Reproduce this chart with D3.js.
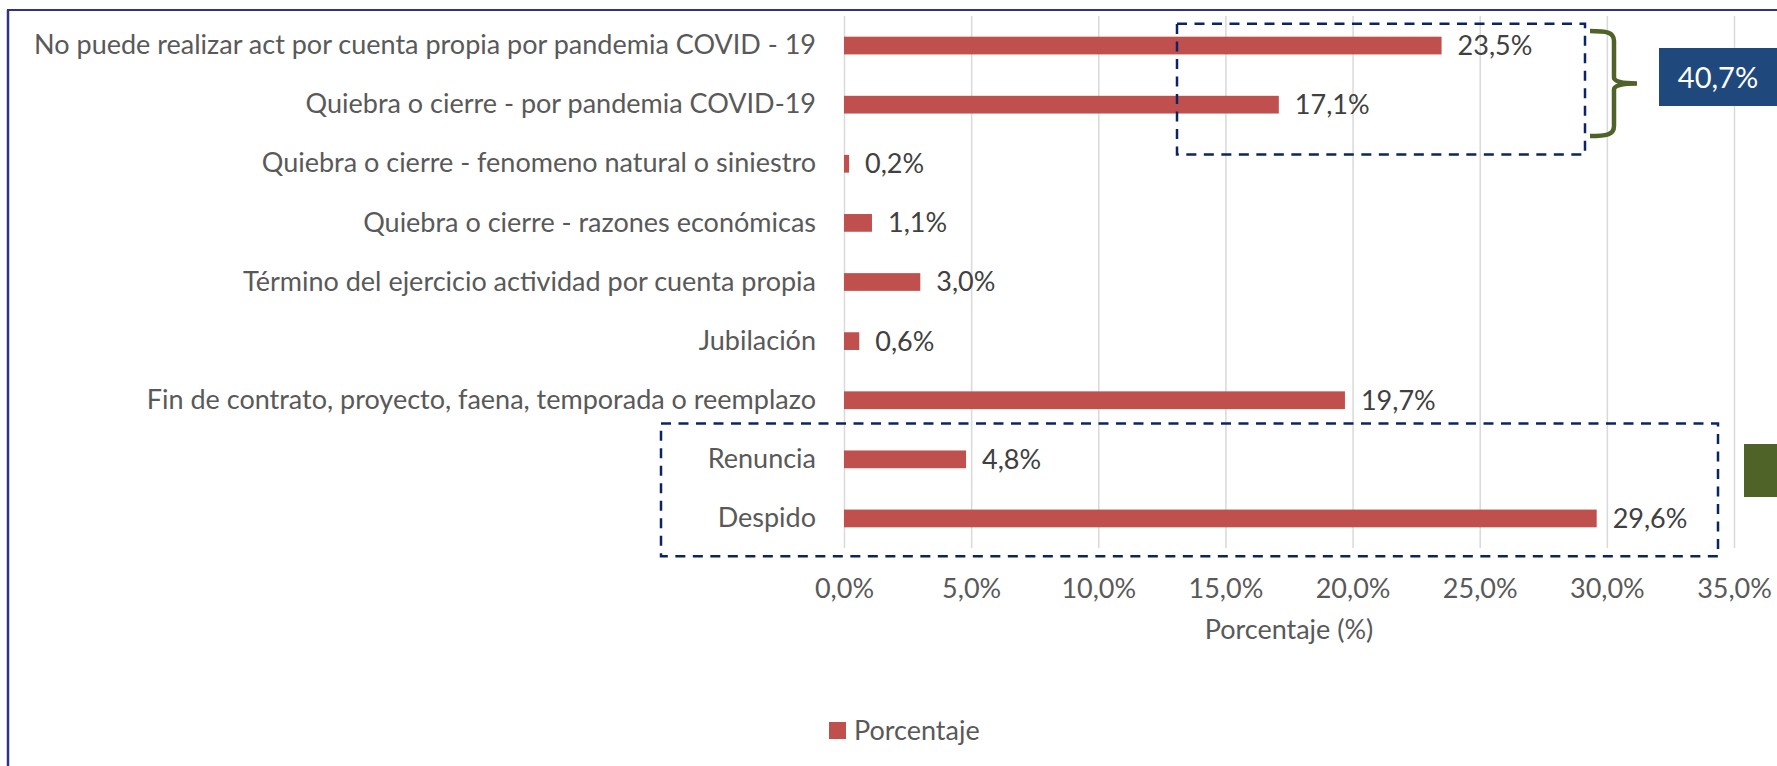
<!DOCTYPE html>
<html>
<head>
<meta charset="utf-8">
<script src="https://cdn.jsdelivr.net/npm/d3@7"></script>
<style>
  body { margin: 0; background: #fff; }
  svg { display: block; font-family: Lato, "Open Sans", sans-serif; }
</style>
</head>
<body>
<div id="chart"></div>
<script>
// categories top to bottom, values in percent
let categories = [
  "No puede realizar act por cuenta propia por pandemia COVID - 19",
  "Quiebra o cierre - por pandemia COVID-19",
  "Quiebra o cierre - fenomeno natural o siniestro",
  "Quiebra o cierre - razones económicas",
  "Término del ejercicio actividad por cuenta propia",
  "Jubilación",
  "Fin de contrato, proyecto, faena, temporada o reemplazo",
  "Renuncia",
  "Despido"
];
let values = [23.5, 17.1, 0.2, 1.1, 3.0, 0.6, 19.7, 4.8, 29.6];
let xTicks = [0, 5, 10, 15, 20, 25, 30, 35];
let seriesName = "Porcentaje";
let axisTitle = "Porcentaje (%)";
let covidTotal = "40,7%";

let W = 1777, H = 766;
let plotLeft = 844, plotRight = 1734, plotTop = 16, plotBottom = 548;
let fontSize = 27;

let locale = d3.formatLocale({decimal: ",", thousands: ".", grouping: [3], currency: ["", ""]});
let fmt = function (d) { return locale.format(".1f")(d) + "%"; };

let svg = d3.select('#chart')
    .append('svg')
    .attr("width", W)
    .attr("height", H);

let xScale = d3.scaleLinear().domain([0, 35]).range([plotLeft, plotRight]);
let yScale = d3.scaleBand()
    .domain(categories)
    .range([plotTop, plotBottom])
    .paddingInner(0.7)
    .paddingOuter(0.35);

// frame lines
svg.append('line').attr('x1', 7).attr('x2', W).attr('y1', 10).attr('y2', 10)
    .attr('stroke', '#2e3388').attr('stroke-width', 2);
svg.append('line').attr('x1', 8).attr('x2', 8).attr('y1', 10).attr('y2', H)
    .attr('stroke', '#2e3388').attr('stroke-width', 2.5);

// gridlines
let grid = svg.append('g')
    .attr("transform", "translate(0," + plotBottom + ")")
    .call(d3.axisBottom(xScale).tickValues(xTicks).tickSize(-(plotBottom - plotTop)).tickFormat(""));
grid.select('.domain').remove();
grid.selectAll('line').attr('stroke', '#d9d9d9').attr('stroke-width', 1.5);

// bars
svg.selectAll('rect.bar')
    .data(values)
    .enter()
    .append('rect')
    .attr('class', 'bar')
    .attr('x', xScale(0))
    .attr('y', function (d, i) { return yScale(categories[i]); })
    .attr('width', function (d) { return xScale(d) - xScale(0); })
    .attr('height', yScale.bandwidth())
    .attr('fill', '#c0504d');

// data labels
svg.selectAll('text.val')
    .data(values)
    .enter()
    .append('text')
    .attr('class', 'val')
    .attr('x', function (d) { return xScale(d) + 16; })
    .attr('y', function (d, i) { return yScale(categories[i]) + yScale.bandwidth() / 2; })
    .attr('dy', '0.35em')
    .attr('font-size', fontSize)
    .attr('fill', '#404040')
    .text(fmt);

// category axis
let yAxis = svg.append('g')
    .attr("transform", "translate(" + plotLeft + ",0)")
    .call(d3.axisLeft(yScale).tickSize(0).tickPadding(28));
yAxis.select('.domain').remove();
yAxis.selectAll('text')
    .attr('font-size', fontSize)
    .attr('font-family', 'Lato, "Open Sans", sans-serif')
    .attr('fill', '#595959');

// value axis
let xAxis = svg.append('g')
    .attr("transform", "translate(0," + plotBottom + ")")
    .call(d3.axisBottom(xScale).tickValues(xTicks).tickSize(0).tickFormat(fmt));
xAxis.select('.domain').remove();
xAxis.selectAll('text')
    .attr('y', 41)
    .attr('dy', '0.35em')
    .attr('font-size', fontSize)
    .attr('font-family', 'Lato, "Open Sans", sans-serif')
    .attr('fill', '#595959');

svg.append('text')
    .attr('x', (plotLeft + plotRight) / 2)
    .attr('y', 630)
    .attr('dy', '0.35em')
    .attr('text-anchor', 'middle')
    .attr('font-size', fontSize)
    .attr('fill', '#595959')
    .text(axisTitle);

// legend
svg.append('rect').attr('x', 829).attr('y', 722).attr('width', 17).attr('height', 17).attr('fill', '#c0504d');
svg.append('text').attr('x', 854).attr('y', 731).attr('dy', '0.35em')
    .attr('font-size', fontSize).attr('fill', '#595959').text(seriesName);

// dashed highlight boxes
let dash = {stroke: '#0c2461', width: 2.5, arr: '10,7.5'};
function dashedBox(cats, x0, x1, padTop, padBottom) {
  let y0 = yScale(cats[0]) - padTop;
  let y1 = yScale(cats[cats.length - 1]) + yScale.bandwidth() + padBottom;
  svg.append('rect')
      .attr('x', x0).attr('y', y0)
      .attr('width', x1 - x0).attr('height', y1 - y0)
      .attr('fill', 'none')
      .attr('stroke', dash.stroke)
      .attr('stroke-width', dash.width)
      .attr('stroke-dasharray', dash.arr);
}
dashedBox([categories[0], categories[1]], 1177, 1585, 13, 41);
dashedBox([categories[7], categories[8]], 661, 1718, 27, 29);

// curly brace
let bt = 31, bb = 136, bm = (bt + bb) / 2, bx = 1614;
svg.append('path')
    .attr('d', 'M1590,' + bt + ' C1606,' + bt + ' ' + bx + ',' + (bt + 1) + ' ' + bx + ',' + (bt + 10) +
        ' L' + bx + ',' + (bm - 6) + ' Q' + bx + ',' + bm + ' 1637,' + bm +
        ' Q' + bx + ',' + bm + ' ' + bx + ',' + (bm + 6) +
        ' L' + bx + ',' + (bb - 10) + ' C' + bx + ',' + (bb - 1) + ' 1606,' + bb + ' 1590,' + bb)
    .attr('fill', 'none')
    .attr('stroke', '#4f6228')
    .attr('stroke-width', 4.5);

// total box
svg.append('rect').attr('x', 1659).attr('y', 48).attr('width', 130).attr('height', 58).attr('fill', '#1f497d');
svg.append('text').attr('x', 1718).attr('y', 78).attr('dy', '0.35em')
    .attr('text-anchor', 'middle').attr('font-size', 29).attr('fill', '#fff').text(covidTotal);

// green box at the edge
svg.append('rect').attr('x', 1744).attr('y', 444).attr('width', 60).attr('height', 53).attr('fill', '#4f6228');
</script>
</body>
</html>
